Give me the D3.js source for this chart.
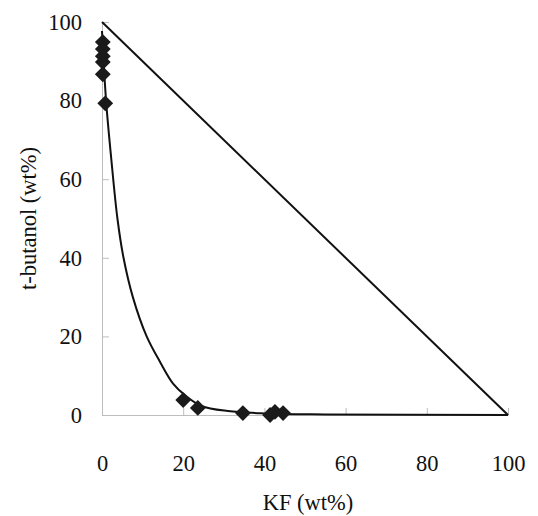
<!DOCTYPE html>
<html>
<head>
<meta charset="utf-8">
<script src="https://cdn.jsdelivr.net/npm/d3@7"></script>
<style>
  body { margin: 0; background: #fff; }
  svg { display: block; }
  text { font-family: "Liberation Serif", "Times New Roman", serif; fill: #111; }
</style>
</head>
<body>
<svg id="chart" width="538" height="516"></svg>
<script>
// measured points (KF wt%, t-butanol wt%)
const kfPts = [0.2, 0.2, 0.2, 0.2, 0.2, 0.8, 20.0, 23.6, 34.7, 41.4, 42.6, 44.6];
const tbPts = [94.9, 93.1, 91.3, 89.8, 86.7, 79.3, 3.8, 1.8, 0.5, 0.0, 0.8, 0.5];

// fitted binodal curve
const kfCurve = [0, 1.0, 2.3, 3.8, 5.3, 7.6, 11.0, 14.3, 17.5, 20.5, 24.5, 31, 40, 55, 100];
const tbCurve = [97.7, 80, 65, 50, 40, 30, 20, 13.5, 8, 5, 2.3, 1.0, 0.4, 0.15, 0];

// triangle edge (pure t-butanol to pure KF)
const kfEdge = [0, 100];
const tbEdge = [100, 0];

const xTicks = [0, 20, 40, 60, 80, 100];
const yTicks = [0, 20, 40, 60, 80, 100];

const width = 538, height = 516;
const margin = { top: 22, right: 30, bottom: 101, left: 102 };

const svg = d3.select("#chart");

const x = d3.scaleLinear().domain([0, 100]).range([margin.left, width - margin.right]);
const y = d3.scaleLinear().domain([0, 100]).range([height - margin.bottom, margin.top]);

// axes: light grey lines with inner ticks
const xAxis = svg.append("g")
    .attr("transform", `translate(0,${y(0)})`)
    .call(d3.axisBottom(x).tickValues(xTicks).tickSizeInner(-7).tickSizeOuter(0).tickPadding(40));
const yAxis = svg.append("g")
    .attr("transform", `translate(${x(0)},0)`)
    .call(d3.axisLeft(y).tickValues(yTicks).tickSizeInner(-7).tickSizeOuter(0).tickPadding(20));

[xAxis, yAxis].forEach(g => {
    g.select(".domain").attr("stroke", "#bdbdbd").attr("stroke-width", 1);
    g.selectAll(".tick line").attr("stroke", "#bdbdbd");
    g.selectAll(".tick text")
        .attr("font-size", 22.5)
        .attr("fill", "#111")
        .style("font-family", "'Liberation Serif', serif");
});

// triangle edge
const line = d3.line().x(d => x(d[0])).y(d => y(d[1]));
svg.append("path")
    .datum(kfEdge.map((v, i) => [v, tbEdge[i]]))
    .attr("fill", "none")
    .attr("stroke", "#111")
    .attr("stroke-width", 2)
    .attr("d", line);

// binodal curve
svg.append("path")
    .datum(kfCurve.map((v, i) => [v, tbCurve[i]]))
    .attr("fill", "none")
    .attr("stroke", "#111")
    .attr("stroke-width", 2)
    .attr("d", d3.line().x(d => x(d[0])).y(d => y(d[1])).curve(d3.curveCatmullRom.alpha(0.5)));

// diamonds
const diamond = d3.symbol().type(d3.symbolSquare).size(125);
svg.append("g")
    .selectAll("path")
    .data(kfPts.map((v, i) => [v, tbPts[i]]))
    .join("path")
    .attr("transform", d => `translate(${x(d[0])},${y(d[1])}) rotate(45)`)
    .attr("d", diamond)
    .attr("fill", "#1a1a1a");

// axis titles
svg.append("text")
    .attr("x", (x(0) + x(100)) / 2 + 3)
    .attr("y", 510)
    .attr("text-anchor", "middle")
    .attr("font-size", 22.5)
    .text("KF (wt%)");

svg.append("text")
    .attr("transform", `translate(36,${(y(0) + y(100)) / 2}) rotate(-90)`)
    .attr("text-anchor", "middle")
    .attr("font-size", 22.5)
    .text("t-butanol (wt%)");
</script>
</body>
</html>
